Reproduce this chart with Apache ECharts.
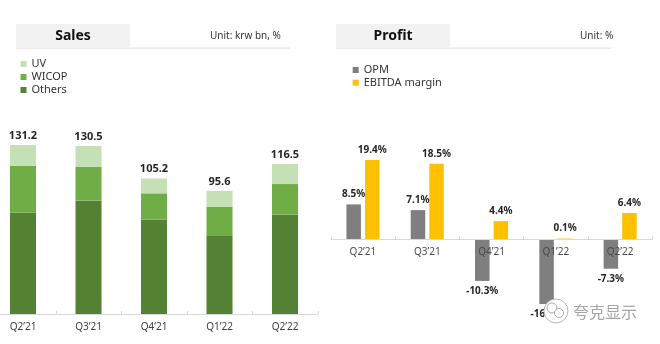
<!DOCTYPE html>
<html><head><meta charset="utf-8">
<script src="https://cdn.jsdelivr.net/npm/echarts@6/dist/echarts.min.js"></script>
<style>html,body{margin:0;padding:0;background:#fff}#c{width:660px;height:344px}</style>
</head><body><div id="c"></div>
<script>
const categories = ['Q2’21', 'Q3’21', 'Q4’21', 'Q1’22', 'Q2’22'];
const salesOthers = [78.6, 88.0, 73.2, 61.1, 77.1];
const salesWicop = [36.5, 26.4, 20.5, 22.0, 23.8];
const salesUV = [16.1, 16.1, 11.5, 12.5, 15.6];
const salesTotal = [131.2, 130.5, 105.2, 95.6, 116.5];
const opm = [8.5, 7.1, -10.3, -16.0, -7.3];
const ebitda = [19.4, 18.5, 4.4, 0.1, 6.4];

const FONT = 'Noto Sans';
const chart = echarts.init(document.getElementById('c'));
const lbl = {show: true, fontFamily: FONT, fontSize: 10, fontWeight: 'bold', color: '#262626'};
const axLabel = {fontFamily: FONT, fontSize: 10, color: '#404040', margin: 8};
const axLine = {lineStyle: {color: '#d9d9d9'}};
const axTick = {show: true, inside: true, length: 3, lineStyle: {color: '#d9d9d9'}};

function header(x, title, unit, unitX, lineEnd) {
  return [
    {type: 'rect', shape: {x: x, y: 24, width: 114, height: 23}, style: {fill: '#f2f2f2'}},
    {type: 'rect', shape: {x: x, y: 47.5, width: lineEnd - x, height: 1.2}, style: {fill: '#e3e3e3'}},
    {type: 'text', x: x + 57, y: 36, style: {text: title, fontFamily: FONT, fontSize: 14, fontWeight: 'bold', fill: '#111', align: 'center', verticalAlign: 'middle'}},
    {type: 'text', x: unitX, y: 36, style: {text: unit, fontFamily: FONT, fontSize: 10, fill: '#333', align: 'left', verticalAlign: 'middle'}}
  ];
}

chart.setOption({
  animation: false,
  grid: [
    {left: -9.75, width: 327.5, top: 120.8, height: 193.2, outerBoundsMode: 'none', containLabel: false},
    {left: 330.8, width: 321.5, top: 137.25, height: 183.15, outerBoundsMode: 'none', containLabel: false},
    {left: 330.8, width: 321.5, top: 137.25, height: 101.75, outerBoundsMode: 'none', containLabel: false}
  ],
  legend: [
    {data: ['UV', 'WICOP', 'Others'], orient: 'vertical', left: 15.5, top: 53.5, icon: 'rect', itemWidth: 6, itemHeight: 6, itemGap: 2,
     textStyle: {fontFamily: FONT, fontSize: 11, color: '#333', lineHeight: 11}},
    {data: ['OPM', 'EBITDA margin'], orient: 'vertical', left: 347.7, top: 59.5, icon: 'rect', itemWidth: 6, itemHeight: 6, itemGap: 1.7,
     textStyle: {fontFamily: FONT, fontSize: 11, color: '#333', lineHeight: 11}}
  ],
  xAxis: [
    {type: 'category', gridIndex: 0, data: categories, axisLine: axLine, axisTick: axTick, axisLabel: axLabel},
    {type: 'category', gridIndex: 1, data: categories, show: false},
    {type: 'category', gridIndex: 2, data: categories, z: 5, axisLine: axLine, axisTick: axTick,
     axisLabel: Object.assign({}, axLabel, {color: '#4a4a4a'})}
  ],
  yAxis: [
    {type: 'value', gridIndex: 0, min: 0, max: 150, show: false, splitLine: {show: false}},
    {type: 'value', gridIndex: 1, min: -20, max: 25, show: false, splitLine: {show: false}},
    {type: 'value', gridIndex: 2, min: 0, max: 25, show: false, splitLine: {show: false}}
  ],
  series: [
    {name: 'Others', type: 'bar', stack: 's', xAxisIndex: 0, yAxisIndex: 0, data: salesOthers, barWidth: 26, itemStyle: {color: '#548235'}},
    {name: 'WICOP', type: 'bar', stack: 's', xAxisIndex: 0, yAxisIndex: 0, data: salesWicop, barWidth: 26, itemStyle: {color: '#70ad47'}},
    {name: 'UV', type: 'bar', stack: 's', xAxisIndex: 0, yAxisIndex: 0, data: salesUV, barWidth: 26, itemStyle: {color: '#c5e0b4'},
     label: Object.assign({}, lbl, {position: 'top', distance: 4, fontSize: 11, formatter: p => salesTotal[p.dataIndex].toFixed(1)})},
    {name: 'OPM', type: 'bar', xAxisIndex: 1, yAxisIndex: 1, data: opm, barWidth: 14.5, barGap: '28%', itemStyle: {color: '#7f7f7f'},
     label: Object.assign({}, lbl, {position: 'outside', distance: 5, formatter: p => p.value.toFixed(1) + '%'})},
    {name: 'EBITDA margin', type: 'bar', xAxisIndex: 1, yAxisIndex: 1, data: ebitda, barWidth: 14.5, barGap: '28%', itemStyle: {color: '#ffc000'},
     label: Object.assign({}, lbl, {position: 'top', distance: 5, formatter: p => p.value.toFixed(1) + '%'})}
  ],
  graphic: [].concat(
    header(16, 'Sales', 'Unit: krw bn, %', 210, 290),
    header(336, 'Profit', 'Unit: %', 580, 611),
    [
      {type: 'circle', z: 100, shape: {cx: 556, cy: 311, r: 12}, style: {fill: '#fff', stroke: '#b5b5b5', lineWidth: 1}},
      {type: 'circle', z: 101, shape: {cx: 552, cy: 308, r: 5}, style: {fill: '#fff', stroke: '#aaa', lineWidth: 1}},
      {type: 'circle', z: 101, shape: {cx: 559, cy: 313, r: 4.5}, style: {fill: '#fff', stroke: '#aaa', lineWidth: 1}},
      {type: 'text', z: 100, x: 573, y: 312, style: {text: '夸克显示', fontFamily: 'Noto Sans CJK SC', fontSize: 16, fill: '#a6a6a6', align: 'left', verticalAlign: 'middle'}}
    ]
  )
});
</script></body></html>
